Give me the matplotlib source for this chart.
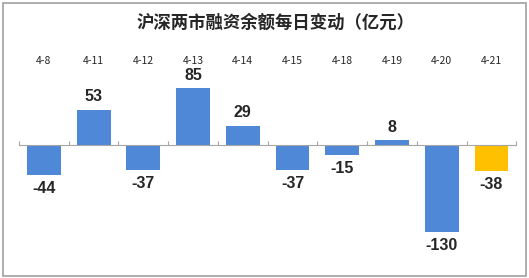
import matplotlib
matplotlib.use("Agg")
import matplotlib.pyplot as plt
import matplotlib.transforms as mtransforms
from matplotlib.patches import Rectangle

plt.rcParams['font.family'] = ['Noto Sans CJK SC', 'DejaVu Sans']

dates = ["4-8", "4-11", "4-12", "4-13", "4-14", "4-15", "4-18", "4-19", "4-20", "4-21"]
changes = [-44, 53, -37, 85, 29, -37, -15, 8, -130, -38]
colors = ["#4f88d6"] * 9 + ["#ffc000"]

fig = plt.figure(figsize=(5.29, 2.78), dpi=100)
fig.patches.append(Rectangle((0.006, 0.008), 0.988, 0.982, transform=fig.transFigure,
                             fill=False, edgecolor="#a0a0a0", linewidth=1.2))

ax = fig.add_axes([0.036, 0.047, 0.94, 0.70])
x = list(range(len(dates)))
ax.bar(x, changes, width=0.68, color=colors, zorder=2)

ax.set_xlim(-0.5, len(dates) - 0.5)
ax.set_ylim(-179, 112)

# zero line with category separators
for s in ["top", "right", "left"]:
    ax.spines[s].set_visible(False)
ax.spines["bottom"].set_position(("data", 0))
ax.spines["bottom"].set_color("#a6a6a6")
ax.set_xticks([i - 0.5 for i in range(len(dates) + 1)])
ax.tick_params(axis="x", direction="in", length=3, color="#a6a6a6", labelbottom=False)
ax.set_yticks([])

# value labels
for i, v in enumerate(changes):
    if v >= 0:
        ax.text(i, v + 8, str(v), ha="center", va="bottom", fontsize=11.5,
                fontweight="bold", color="#262626", family="Liberation Sans")
    else:
        ax.text(i, v - 9, str(v), ha="center", va="top", fontsize=11.5,
                fontweight="bold", color="#262626", family="Liberation Sans")

# category labels across the top
trans = mtransforms.blended_transform_factory(ax.transData, fig.transFigure)
for i, d in enumerate(dates):
    ax.text(i, 0.78, d, ha="center", va="center", fontsize=7.5, color="#262626",
            transform=trans)

fig.text(0.52, 0.92, "沪深两市融资余额每日变动（亿元）", ha="center", va="center",
         fontsize=12.5, fontweight="bold", color="#262626")

fig.savefig("out.png", dpi=100)
